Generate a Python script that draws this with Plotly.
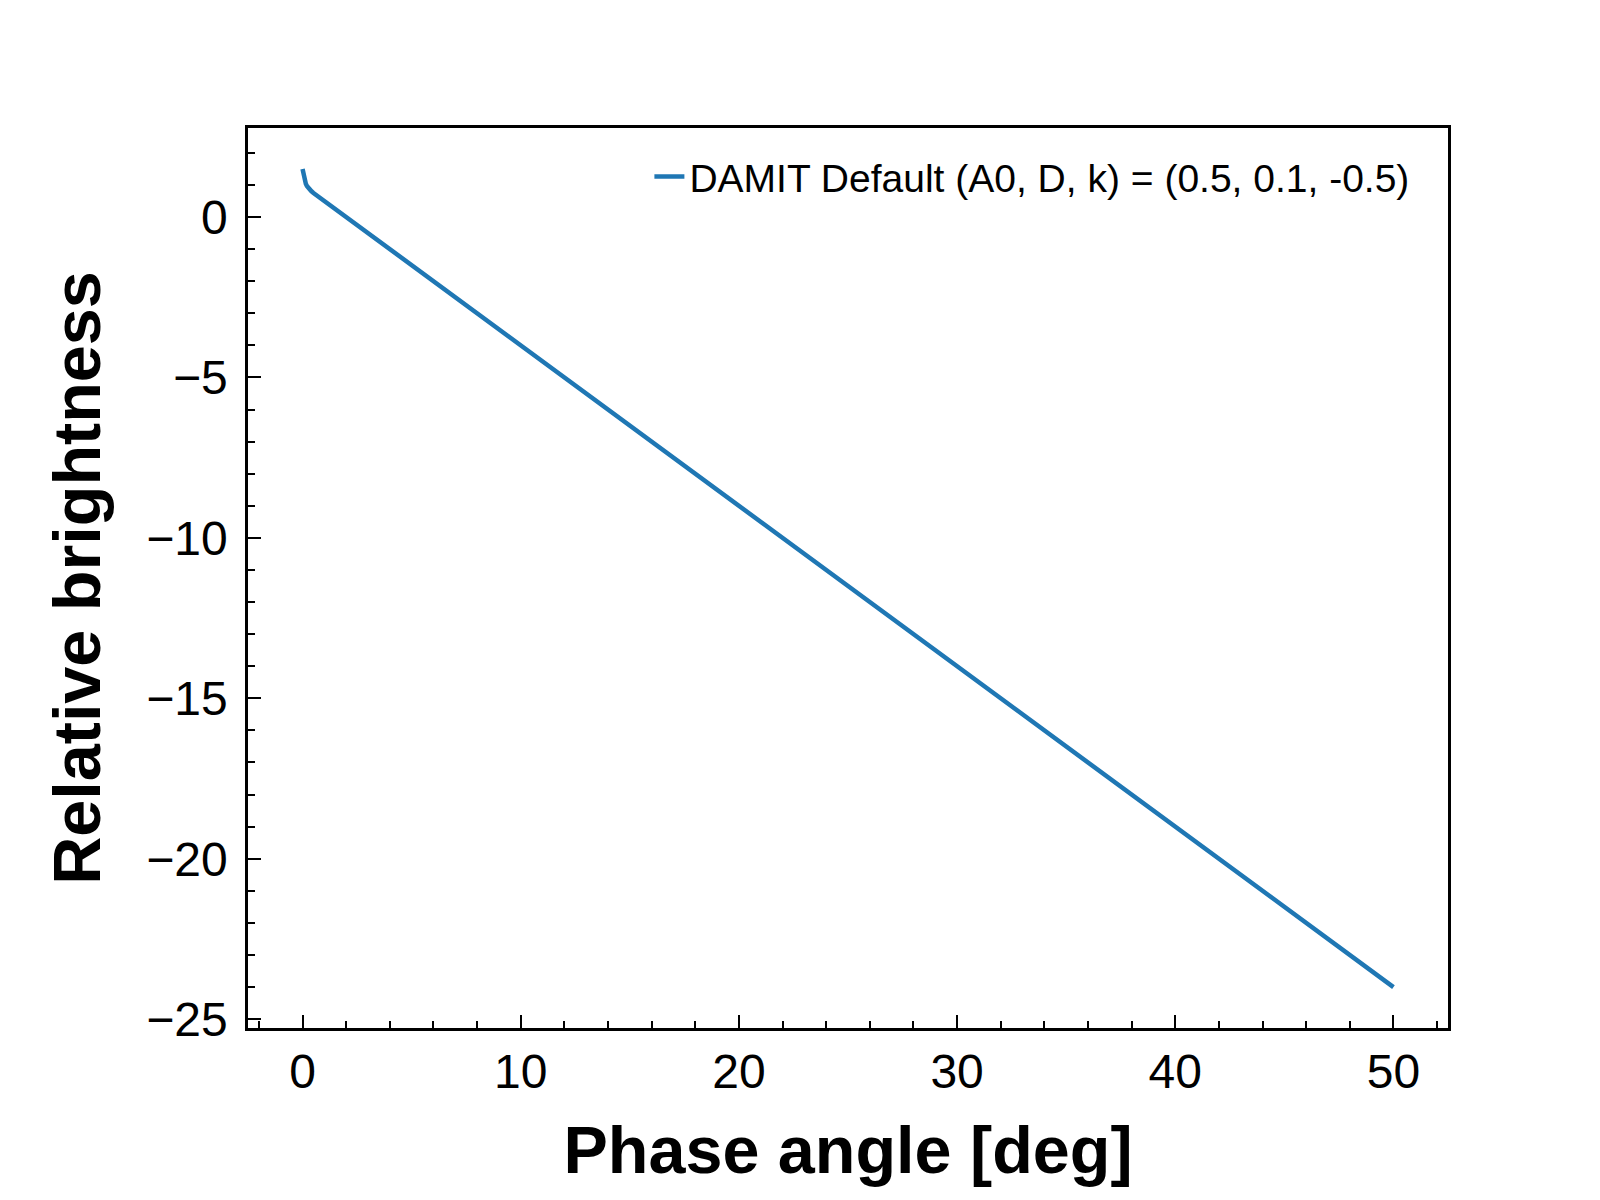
import plotly.graph_objects as go

# phase curve
phase_angle = [0.0, 0.05, 0.1, 0.15, 0.2, 0.3, 0.4, 0.5, 1.0, 2.0, 5.0, 10.0, 20.0, 30.0, 40.0, 50.0]
brightness = [1.5, 1.28, 1.13, 1.04, 0.97, 0.87, 0.81, 0.75, 0.5, 0.0, -1.5, -4.0, -9.0, -14.0, -19.0, -24.0]
series_name = "DAMIT Default (A0, D, k) = (0.5, 0.1, -0.5)"

x_ticks = [0, 10, 20, 30, 40, 50]
y_ticks = [-25, -20, -15, -10, -5, 0]

FONT = "Liberation Sans, Arial, Helvetica, sans-serif"

trace = go.Scatter(x=phase_angle, y=brightness, mode="lines", name=series_name,
                   line=dict(color="#1f77b4", width=4.5))

axis_common = dict(
    showline=True, linecolor="black", linewidth=2.5, mirror=True,
    showgrid=False, zeroline=False,
    ticks="inside", ticklen=13, tickwidth=2.2, tickcolor="black",
    tickfont=dict(family=FONT, size=48, color="black"),
    automargin=False,
)

layout = go.Layout(
    width=1600, height=1200,
    paper_bgcolor="white", plot_bgcolor="white",
    margin=dict(l=240, r=160, t=120, b=180),
    font=dict(family=FONT, color="black"),
    xaxis=dict(axis_common, range=[-2.5, 52.5], tickvals=x_ticks,
               minor=dict(dtick=2, tick0=0, ticks="inside", ticklen=7, tickwidth=2, tickcolor="black"),
               ticklabelstandoff=0,
               title=dict(text="<b>Phase angle [deg]</b>", font=dict(family=FONT, size=66.5), standoff=30)),
    yaxis=dict(axis_common, range=[-25.275, 2.775], tickvals=y_ticks,
               minor=dict(dtick=1, tick0=0, ticks="inside", ticklen=7, tickwidth=2, tickcolor="black"),
               ticklabelstandoff=8,
               title=dict(text="<b>Relative brightness</b>", font=dict(family=FONT, size=66.5), standoff=24)),
    showlegend=True,
    legend=dict(x=0.972, y=0.946, xanchor="right", yanchor="middle",
                bgcolor="rgba(0,0,0,0)", borderwidth=0,
                font=dict(family=FONT, size=39, color="black")),
)

fig = go.Figure(data=[trace], layout=layout)
fig.write_html("out.html")
